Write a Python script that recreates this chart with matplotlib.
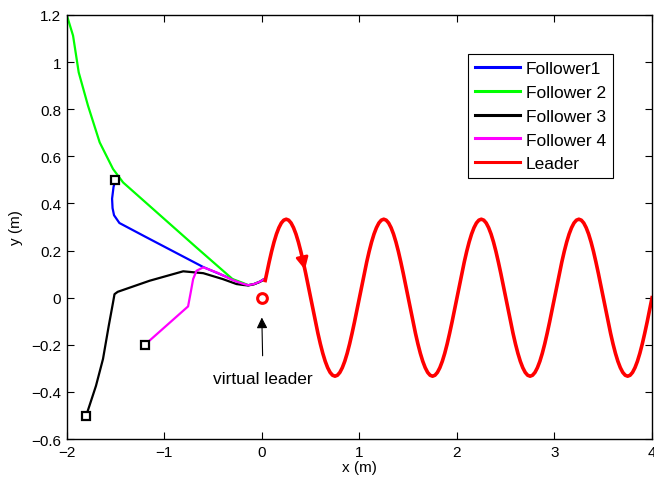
import numpy as np
import matplotlib
matplotlib.use('Agg')
import matplotlib.pyplot as plt
from matplotlib.ticker import FuncFormatter

plt.rcParams['font.family'] = ['Liberation Sans', 'DejaVu Sans']

# follower trajectories
f1_x = [-1.50, -1.52, -1.535, -1.53, -1.515, -1.46, -1.20, -0.90, -0.60, -0.40, -0.26, -0.20, -0.14, -0.08, -0.02, 0.02]
f1_y = [0.50, 0.47, 0.42, 0.38, 0.35, 0.317, 0.26, 0.195, 0.13, 0.095, 0.070, 0.060, 0.053, 0.058, 0.068, 0.078]

f2_x = [-2.00, -1.935, -1.877, -1.782, -1.662, -1.525, -1.422, -0.67, -0.30, -0.19, -0.14, -0.08, -0.02, 0.02]
f2_y = [1.20, 1.112, 0.956, 0.815, 0.659, 0.546, 0.489, 0.213, 0.079, 0.062, 0.053, 0.058, 0.068, 0.078]

f3_x = [-1.80, -1.70, -1.628, -1.569, -1.525, -1.51, -1.477, -1.15, -0.806, -0.60, -0.40, -0.26, -0.19, -0.14, -0.08, -0.02, 0.02]
f3_y = [-0.50, -0.374, -0.26, -0.119, -0.02, 0.015, 0.025, 0.072, 0.112, 0.104, 0.079, 0.058, 0.054, 0.052, 0.057, 0.067, 0.077]

f4_x = [-1.20, -0.756, -0.73, -0.704, -0.67, -0.60, -0.45, -0.30, -0.20, -0.14, -0.08, -0.02, 0.02]
f4_y = [-0.20, -0.037, 0.02, 0.079, 0.114, 0.129, 0.105, 0.075, 0.060, 0.053, 0.058, 0.068, 0.078]

# start squares (follower 2 starts in the corner, no square visible)
start_x = [-1.5, -1.8, -1.2]
start_y = [0.5, -0.5, -0.2]

leader_x = [
    0.035, 0.05, 0.075, 0.10, 0.125, 0.15, 0.175, 0.20, 0.225, 0.25, 0.275, 0.30, 0.325, 0.35, 0.375, 0.40, 0.425, 0.45, 0.475,
    0.50, 0.525, 0.55, 0.575, 0.60, 0.625, 0.65, 0.675, 0.70, 0.725, 0.75, 0.775, 0.80, 0.825, 0.85, 0.875, 0.90, 0.925, 0.95, 0.975,
    1.00, 1.025, 1.05, 1.075, 1.10, 1.125, 1.15, 1.175, 1.20, 1.225, 1.25, 1.275, 1.30, 1.325, 1.35, 1.375, 1.40, 1.425, 1.45, 1.475,
    1.50, 1.525, 1.55, 1.575, 1.60, 1.625, 1.65, 1.675, 1.70, 1.725, 1.75, 1.775, 1.80, 1.825, 1.85, 1.875, 1.90, 1.925, 1.95, 1.975,
    2.00, 2.025, 2.05, 2.075, 2.10, 2.125, 2.15, 2.175, 2.20, 2.225, 2.25, 2.275, 2.30, 2.325, 2.35, 2.375, 2.40, 2.425, 2.45, 2.475,
    2.50, 2.525, 2.55, 2.575, 2.60, 2.625, 2.65, 2.675, 2.70, 2.725, 2.75, 2.775, 2.80, 2.825, 2.85, 2.875, 2.90, 2.925, 2.95, 2.975,
    3.00, 3.025, 3.05, 3.075, 3.10, 3.125, 3.15, 3.175, 3.20, 3.225, 3.25, 3.275, 3.30, 3.325, 3.35, 3.375, 3.40, 3.425, 3.45, 3.475,
    3.50, 3.525, 3.55, 3.575, 3.60, 3.625, 3.65, 3.675, 3.70, 3.725, 3.75, 3.775, 3.80, 3.825, 3.85, 3.875, 3.90, 3.925, 3.95, 3.975,
    4.00,
]
leader_y = [
    0.073, 0.103, 0.151, 0.196, 0.236, 0.270, 0.297, 0.317, 0.329, 0.333, 0.329, 0.317, 0.297, 0.270, 0.236, 0.196, 0.151, 0.103, 0.052,
    0.0, -0.052, -0.103, -0.151, -0.196, -0.236, -0.270, -0.297, -0.317, -0.329, -0.333, -0.329, -0.317, -0.297, -0.270, -0.236, -0.196, -0.151, -0.103, -0.052,
    0.0, 0.052, 0.103, 0.151, 0.196, 0.236, 0.270, 0.297, 0.317, 0.329, 0.333, 0.329, 0.317, 0.297, 0.270, 0.236, 0.196, 0.151, 0.103, 0.052,
    0.0, -0.052, -0.103, -0.151, -0.196, -0.236, -0.270, -0.297, -0.317, -0.329, -0.333, -0.329, -0.317, -0.297, -0.270, -0.236, -0.196, -0.151, -0.103, -0.052,
    0.0, 0.052, 0.103, 0.151, 0.196, 0.236, 0.270, 0.297, 0.317, 0.329, 0.333, 0.329, 0.317, 0.297, 0.270, 0.236, 0.196, 0.151, 0.103, 0.052,
    0.0, -0.052, -0.103, -0.151, -0.196, -0.236, -0.270, -0.297, -0.317, -0.329, -0.333, -0.329, -0.317, -0.297, -0.270, -0.236, -0.196, -0.151, -0.103, -0.052,
    0.0, 0.052, 0.103, 0.151, 0.196, 0.236, 0.270, 0.297, 0.317, 0.329, 0.333, 0.329, 0.317, 0.297, 0.270, 0.236, 0.196, 0.151, 0.103, 0.052,
    0.0, -0.052, -0.103, -0.151, -0.196, -0.236, -0.270, -0.297, -0.317, -0.329, -0.333, -0.329, -0.317, -0.297, -0.270, -0.236, -0.196, -0.151, -0.103, -0.052,
    0.0,
]

x_ticks = [-2, -1, 0, 1, 2, 3, 4]
y_ticks = [-0.6, -0.4, -0.2, 0, 0.2, 0.4, 0.6, 0.8, 1, 1.2]

fig = plt.figure(figsize=(6.54, 4.81), dpi=100)
ax = fig.add_axes([0.102, 0.085, 0.895, 0.882])

ax.plot(f1_x, f1_y, color='#0000ff', lw=1.6, label='Follower1')
ax.plot(f2_x, f2_y, color='#00ff00', lw=1.6, label='Follower 2')
ax.plot(f3_x, f3_y, color='black', lw=1.6, label='Follower 3')
ax.plot(f4_x, f4_y, color='#ff00ff', lw=1.6, label='Follower 4')
ax.plot(leader_x, leader_y, color='#ff0000', lw=2.6, label='Leader', solid_joinstyle='round')

ax.plot(start_x, start_y, 's', color='black', mfc='white', ms=6, mew=1.6, ls='none')
ax.plot([0], [0], 'o', color='#ff0000', mfc='white', ms=7, mew=2.2, ls='none')

# direction arrow on the leader curve
ax.annotate('', xy=(0.448, 0.107), xytext=(0.425, 0.15),
            arrowprops=dict(arrowstyle='-|>', color='#ff0000', lw=2, mutation_scale=18))

ax.annotate('virtual leader', xy=(0.0, -0.084), xytext=(0.013, -0.343),
            ha='center', va='center', fontsize=12.5,
            arrowprops=dict(arrowstyle='-|>', color='black', lw=0.8, mutation_scale=16, shrinkA=9, shrinkB=0))

ax.set_xlim(-2, 4)
ax.set_ylim(-0.6, 1.2)
ax.set_xticks(x_ticks)
ax.set_yticks(y_ticks)
fmt = FuncFormatter(lambda v, p: ('%g' % v).replace('-', '\u2212'))
ax.xaxis.set_major_formatter(fmt)
ax.yaxis.set_major_formatter(fmt)
ax.tick_params(direction='in', top=True, right=True, length=5, width=0.8, labelsize=11, pad=4)
for s in ax.spines.values():
    s.set_linewidth(1.0)

ax.set_xlabel('x (m)', fontsize=11, labelpad=1)
ax.set_ylabel('y (m)', fontsize=11, labelpad=6)

leg = ax.legend(loc='upper right', bbox_to_anchor=(0.933, 0.908), fontsize=12.5,
                fancybox=False, framealpha=1, edgecolor='black', handlelength=2.6,
                handletextpad=0.35, labelspacing=0.5, borderpad=0.4, borderaxespad=0)
leg.get_frame().set_linewidth(0.8)
for line in leg.get_lines():
    line.set_linewidth(2.2)

fig.savefig('out.png', dpi=100)
